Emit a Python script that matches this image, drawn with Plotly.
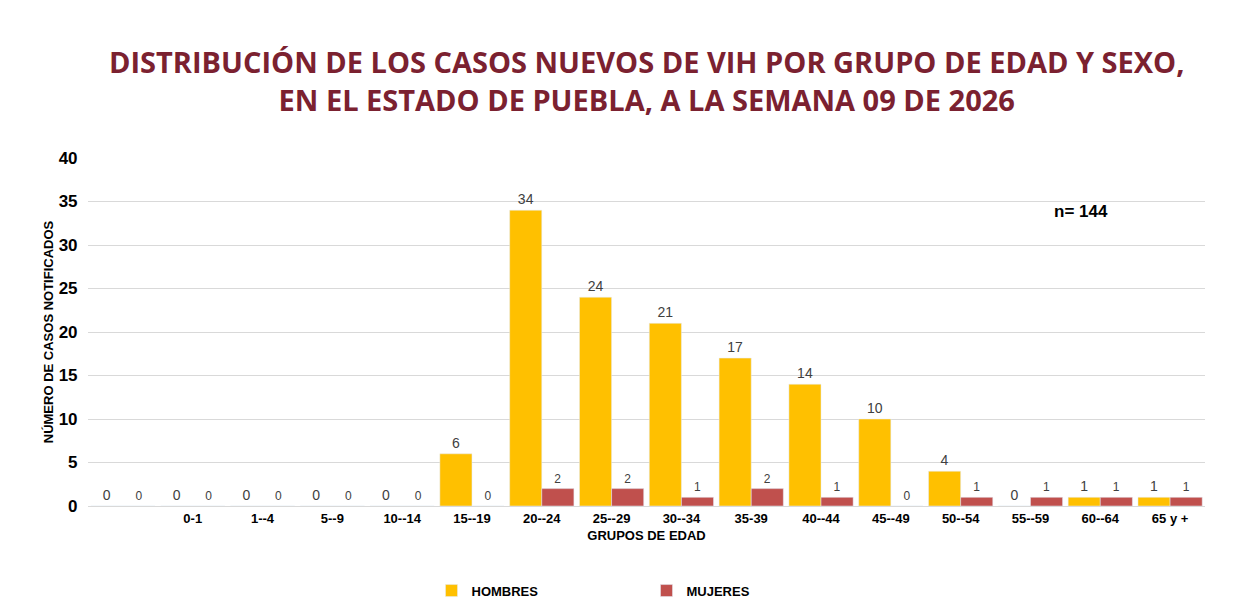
import plotly.graph_objects as go

grupos = [" ", "0-1", "1--4", "5--9", "10--14", "15--19", "20--24", "25--29", "30--34",
          "35-39", "40--44", "45--49", "50--54", "55--59", "60--64", "65 y +"]
hombres = [0, 0, 0, 0, 0, 6, 34, 24, 21, 17, 14, 10, 4, 0, 1, 1]
mujeres = [0, 0, 0, 0, 0, 0, 2, 2, 1, 2, 1, 0, 1, 1, 1, 1]

fig = go.Figure()
fig.add_trace(go.Bar(x=grupos, y=hombres, name="<b>HOMBRES</b>", marker_color="#FFC000",
                     text=hombres, textposition="outside", cliponaxis=False,
                     textfont=dict(size=14, color="#404040")))
fig.add_trace(go.Bar(x=grupos, y=mujeres, name="<b>MUJERES</b>", marker_color="#C0504D",
                     text=mujeres, textposition="outside", cliponaxis=False,
                     textfont=dict(size=12, color="#404040")))

fig.update_layout(
    width=1241, height=610,
    barmode="group", bargap=0.08, bargroupgap=0,
    plot_bgcolor="white", paper_bgcolor="white",
    font=dict(family="Liberation Sans, Arial", color="#000000"),
    margin=dict(l=80, r=44, t=150, b=110),
    legend=dict(orientation="h", x=0.5, xanchor="center", y=-0.2, yanchor="top",
                font=dict(size=13), traceorder="normal", entrywidth=170),
    showlegend=True,
)
fig.add_annotation(x=0.5, y=1.0, xref="paper", yref="paper", yshift=118, showarrow=False,
                   xanchor="center", yanchor="top",
                   text="<b>DISTRIBUCIÓN DE LOS CASOS NUEVOS DE VIH POR GRUPO DE EDAD Y SEXO,<br>EN EL ESTADO DE PUEBLA, A LA SEMANA 09 DE 2026</b>",
                   font=dict(size=29, color="#7B2130", family="Open Sans, Liberation Sans"))
fig.update_xaxes(title=dict(text="<b>GRUPOS DE EDAD</b>", font=dict(size=13), standoff=6),
                 tickfont=dict(size=13), showline=True, linecolor="#D9D9D9",
                 tickprefix="<b>", ticksuffix="</b>")
fig.update_yaxes(range=[0, 40], dtick=5, showgrid=True, gridcolor="#D9D9D9",
                 tickfont=dict(size=17), tickprefix="<b>", ticksuffix="</b>  ",
                 title=dict(text="<b>NÚMERO DE CASOS NOTIFICADOS</b>", font=dict(size=13), standoff=2),
                 zeroline=False)
fig.add_annotation(x=0.915, y=0.88, xref="paper", yref="paper", showarrow=False,
                   text="<b>n= 144</b>", font=dict(size=17))
fig.write_html("out.html")
